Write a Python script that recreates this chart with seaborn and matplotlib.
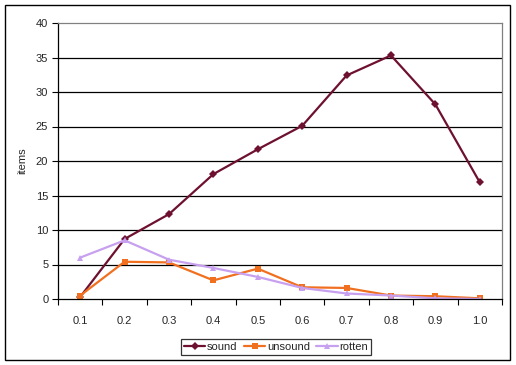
import matplotlib
matplotlib.use("Agg")
import matplotlib.pyplot as plt
from matplotlib.patches import Rectangle
import seaborn as sns
import pandas as pd

# values
categories = ["0.1", "0.2", "0.3", "0.4", "0.5", "0.6", "0.7", "0.8", "0.9", "1.0"]
sound = [0.3, 8.7, 12.3, 18.1, 21.7, 25.1, 32.4, 35.3, 28.2, 16.9]
unsound = [0.5, 5.4, 5.3, 2.7, 4.4, 1.7, 1.6, 0.5, 0.4, 0.1]
rotten = [6.0, 8.5, 5.7, 4.5, 3.2, 1.6, 0.8, 0.5, 0.1, 0.0]
series_names = ["sound", "unsound", "rotten"]
y_ticks = [0, 5, 10, 15, 20, 25, 30, 35, 40]

df = pd.DataFrame({"category": categories, "sound": sound,
                   "unsound": unsound, "rotten": rotten})
long_df = df.melt(id_vars="category", var_name="series", value_name="items")
long_df["pos"] = long_df["category"].map({c: i for i, c in enumerate(categories)})

sns.set_style("white")
plt.rcParams["font.family"] = ["Liberation Sans", "DejaVu Sans"]
plt.rcParams["font.size"] = 8

fig = plt.figure(figsize=(5.16, 3.65), dpi=100)
ax = fig.add_axes([58 / 516, 66 / 365, 444 / 516, 276 / 365])

palette = {"sound": "#6E1030", "unsound": "#F07020", "rotten": "#C8A0F0"}
markers = {"sound": "D", "unsound": "s", "rotten": "^"}
sns.lineplot(data=long_df, x="pos", y="items", hue="series", style="series",
             hue_order=series_names, style_order=series_names,
             palette=palette, markers=markers, dashes=False,
             markersize=4, linewidth=1.6, markeredgewidth=0, ax=ax)

ax.set_xlim(-0.5, len(categories) - 0.5)
ax.set_ylim(0, 40)
ax.set_yticks(y_ticks)
ax.set_xticks(range(len(categories)))
ax.set_xticklabels(categories)
ax.set_xticks([i - 0.5 for i in range(len(categories) + 1)], minor=True)
ax.tick_params(axis="x", which="major", length=0, pad=12, labelsize=8)
ax.tick_params(axis="x", which="minor", length=4, width=0.8, color="black",
               direction="out", bottom=True)
ax.tick_params(axis="y", length=4, width=0.8, color="black", direction="out",
               left=True, labelsize=8, pad=3)

for y in y_ticks[1:-1]:
    ax.axhline(y, color="black", linewidth=0.9, zorder=0)

ax.spines["left"].set_color("black")
ax.spines["bottom"].set_color("black")
ax.spines["top"].set_color("#808080")
ax.spines["right"].set_color("#808080")
for s in ax.spines.values():
    s.set_linewidth(0.9)

ax.set_xlabel("")
ax.set_ylabel("items", fontsize=8, labelpad=6)

handles, labels = ax.get_legend_handles_labels()
ax.legend_.remove()
leg = fig.legend(handles, labels, loc="center", bbox_to_anchor=(276 / 516, 18 / 365),
                 ncol=3, frameon=True, fancybox=False, fontsize=8,
                 handlelength=1.9, handletextpad=0.15, columnspacing=0.6,
                 borderpad=0.3, borderaxespad=0)
leg.get_frame().set_edgecolor("black")
leg.get_frame().set_linewidth(0.9)

fig.patches.append(Rectangle((5 / 516, 5 / 365), 505 / 516, 355 / 365,
                             transform=fig.transFigure, fill=False,
                             edgecolor="black", linewidth=1.0))

fig.savefig("out.png", dpi=100)
